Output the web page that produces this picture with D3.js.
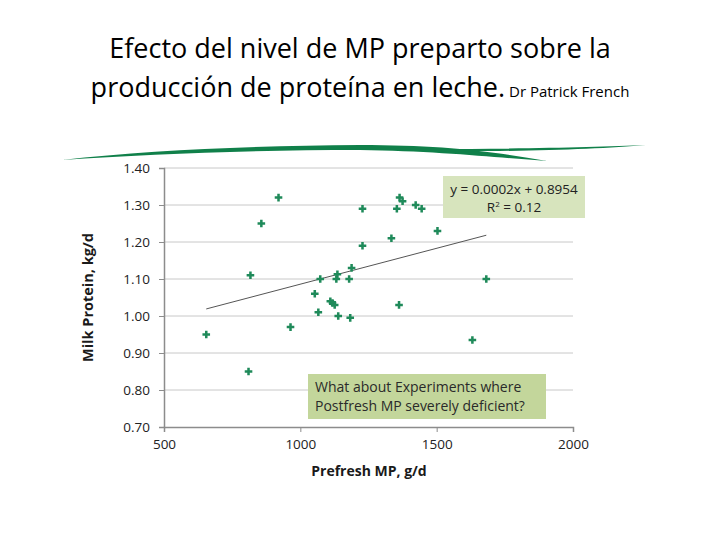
<!DOCTYPE html>
<html>
<head>
<meta charset="utf-8">
<script src="https://cdn.jsdelivr.net/npm/d3@7"></script>
<style>
  body { margin: 0; background: #fff; }
  svg { display: block; }
</style>
</head>
<body>
<div id="chart"></div>
<script>
// chart values
const prefreshMP = [655, 810, 817, 857, 920, 964, 1053, 1066, 1073, 1110, 1118, 1126, 1132, 1136, 1139,
  1179, 1183, 1188, 1228, 1228, 1334, 1354, 1362, 1364, 1375, 1423, 1445, 1503, 1631, 1682];
const milkProtein = [0.95, 0.85, 1.11, 1.25, 1.32, 0.97, 1.06, 1.01, 1.10, 1.04, 1.035, 1.03, 1.10, 1.113, 1.00,
  1.10, 0.995, 1.13, 1.19, 1.29, 1.21, 1.29, 1.03, 1.32, 1.31, 1.30, 1.29, 1.23, 0.935, 1.10];
const xTicks = [500, 1000, 1500, 2000];
const yTicks = [0.7, 0.8, 0.9, 1.0, 1.1, 1.2, 1.3, 1.4];
// fitted trend line (as drawn)
const trendSlope = 0.000194;
const trendIntercept = 0.892;
const trendRange = [655, 1682];

const W = 720, H = 540;
const font = "'Open Sans', sans-serif";
const svg = d3.select("#chart").append("svg")
  .attr("width", W).attr("height", H);

// title
svg.append("text")
  .attr("x", 360).attr("y", 58)
  .attr("text-anchor", "middle")
  .attr("font-family", font).attr("font-size", 27).attr("fill", "#000")
  .text("Efecto del nivel de MP preparto sobre la");
const l2 = svg.append("text")
  .attr("x", 360).attr("y", 97)
  .attr("text-anchor", "middle")
  .attr("font-family", font).attr("fill", "#000");
l2.append("tspan").attr("font-size", 27).text("producción de proteína en leche.");
l2.append("tspan").attr("font-size", 15).text(" Dr Patrick French");

// decorative swoosh: main band with tail, plus a thin strand to the right
svg.append("path")
  .attr("d", "M62,160 C150,150 250,146 360,145 C440,145 490,151 547,161 C500,158 440,151 360,150 C250,150 150,154 62,160 Z")
  .attr("fill", "#10804a");
svg.append("path")
  .attr("d", "M430,149 C520,149 600,147 646,145 C600,149 520,152 430,151 Z")
  .attr("fill", "#10804a");

const x = d3.scaleLinear().domain([500, 2000]).range([164, 573]);
const y = d3.scaleLinear().domain([0.7, 1.4]).range([427, 168]);

// gridlines
svg.append("g").selectAll("line").data(yTicks.slice(1)).join("line")
  .attr("x1", x(500)).attr("x2", x(2000))
  .attr("y1", d => y(d)).attr("y2", d => y(d))
  .attr("stroke", "#c8c8c8").attr("stroke-width", 1);

// axes
const xAxis = d3.axisBottom(x).tickValues(xTicks).tickFormat(d3.format("d")).tickSize(5).tickPadding(6);
const yAxis = d3.axisLeft(y).tickValues(yTicks).tickFormat(d3.format(".2f")).tickSize(5).tickPadding(9);

const gx = svg.append("g").attr("transform", `translate(0,${y(0.7)})`).call(xAxis);
const gy = svg.append("g").attr("transform", `translate(${x(500)},0)`).call(yAxis);
[gx, gy].forEach(g => {
  g.select(".domain").attr("stroke", "#8c8c8c").attr("stroke-width", 1.5);
  g.selectAll(".tick line").attr("stroke", "#8c8c8c");
  g.selectAll(".tick text").attr("font-family", font)
    .attr("font-size", 13.5).attr("fill", "#222");
});
gx.selectAll(".tick text").attr("dy", "0.85em");

// axis titles
svg.append("text")
  .attr("x", 369).attr("y", 476)
  .attr("text-anchor", "middle")
  .attr("font-family", font)
  .attr("font-weight", "bold").attr("font-size", 14).attr("fill", "#1a1a1a")
  .text("Prefresh MP, g/d");
svg.append("text")
  .attr("transform", `translate(93,${(y(0.7) + y(1.4)) / 2}) rotate(-90)`)
  .attr("text-anchor", "middle")
  .attr("font-family", font)
  .attr("font-weight", "bold").attr("font-size", 14.5).attr("fill", "#1a1a1a")
  .text("Milk Protein, kg/d");

// trend line
svg.append("line")
  .attr("x1", x(trendRange[0])).attr("y1", y(trendIntercept + trendSlope * trendRange[0]))
  .attr("x2", x(trendRange[1])).attr("y2", y(trendIntercept + trendSlope * trendRange[1]))
  .attr("stroke", "#555").attr("stroke-width", 1);

// points
const pts = prefreshMP.map((v, i) => ({ x: v, y: milkProtein[i] }));
svg.append("g").selectAll("path").data(pts).join("path")
  .attr("transform", d => `translate(${x(d.x)},${y(d.y)})`)
  .attr("d", d3.symbol().type(d3.symbolCross).size(32))
  .attr("fill", "#1f8a5a");

// equation box
const eq = svg.append("g");
eq.append("rect").attr("x", 443).attr("y", 176).attr("width", 142).attr("height", 42)
  .attr("fill", "#d7e4bd");
const eqText = eq.append("text").attr("text-anchor", "middle")
  .attr("font-family", font).attr("font-size", 13.5).attr("fill", "#222");
eqText.append("tspan").attr("x", 514).attr("y", 194).text("y = 0.0002x + 0.8954");
const r2 = eqText.append("tspan").attr("x", 514).attr("y", 212);
r2.append("tspan").text("R");
r2.append("tspan").attr("font-size", 8).attr("dy", -5).text("2");
r2.append("tspan").attr("dy", 5).text(" = 0.12");

// question box
const q = svg.append("g");
q.append("rect").attr("x", 308).attr("y", 374).attr("width", 238).attr("height", 45)
  .attr("fill", "#c3d69b");
const qText = q.append("text")
  .attr("font-family", font).attr("font-size", 14).attr("fill", "#2a2a2a");
qText.append("tspan").attr("x", 315).attr("y", 392).text("What about Experiments where");
qText.append("tspan").attr("x", 315).attr("y", 411).text("Postfresh MP severely deficient?");
</script>
</body>
</html>
